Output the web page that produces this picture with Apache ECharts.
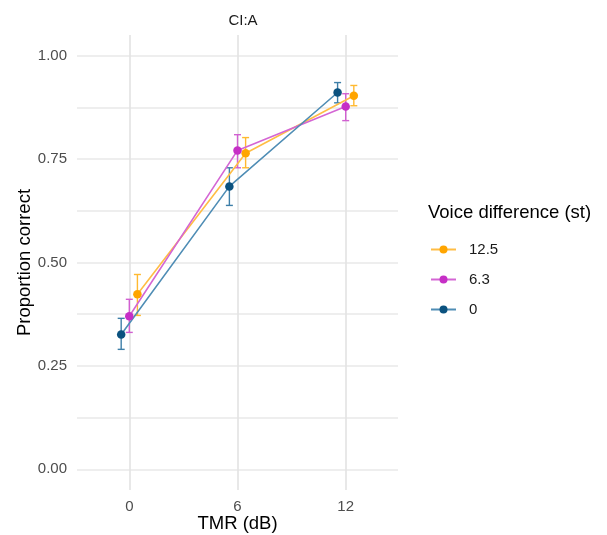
<!DOCTYPE html>
<html>
<head>
<meta charset="utf-8">
<script src="https://cdn.jsdelivr.net/npm/echarts@6/dist/echarts.min.js"></script>
<style>
  html, body { margin: 0; padding: 0; background: #fff; }
  #chart { width: 607px; height: 535px; }
</style>
</head>
<body>
<div id="chart"></div>
<script>
// TMR levels (dB) and voice difference groups (st)
const tmr = [0, 6, 12]
const groups = ['12.5', '6.3', '0']

// proportion correct, with lower / upper error bar ends
const mean125 = [0.423, 0.764, 0.903]
const lo125 = [0.372, 0.729, 0.879]
const hi125 = [0.471, 0.802, 0.928]

const mean63 = [0.370, 0.771, 0.877]
const lo63 = [0.331, 0.729, 0.843]
const hi63 = [0.411, 0.809, 0.908]

const mean0 = [0.326, 0.684, 0.911]
const lo0 = [0.290, 0.638, 0.886]
const hi0 = [0.365, 0.729, 0.935]

const tickY = [0, 0.125, 0.25, 0.375, 0.5, 0.625, 0.75, 0.875, 1]
const labelY = [0, 0.25, 0.5, 0.75, 1]

// dodge offset in dB, colours for point / line / error bar
const dodge = [0.45, 0, -0.45]
const pointColors = ['#FFA500', '#C62FC6', '#0B527F']
const lineColors = ['#FFBD45', '#D466D4', '#4F8DB5']
const barColors = ['#FFB930', '#D160D1', '#3E7FA8']

const means = [mean125, mean63, mean0]
const lows = [lo125, lo63, lo0]
const highs = [hi125, hi63, hi0]

const font = 'Liberation Sans, Arial, sans-serif'

const series = []
groups.forEach(function (g, i) {
  series.push({
    name: g,
    type: 'line',
    z: 3,
    symbol: 'circle',
    symbolSize: 8.5,
    showSymbol: true,
    itemStyle: { color: pointColors[i] },
    lineStyle: { color: lineColors[i], width: 1.6 },
    emphasis: { disabled: true },
    data: tmr.map(function (t, k) { return [t + dodge[i], means[i][k]] })
  })
})
groups.forEach(function (g, i) {
  const c = barColors[i]
  series.push({
    name: g,
    type: 'custom',
    z: 2,
    renderItem: function (params, api) {
      const x = api.value(0)
      const top = api.coord([x, api.value(2)])
      const bot = api.coord([x, api.value(1)])
      const hw = 3.5
      const st = { stroke: c, lineWidth: 1.4 }
      return {
        type: 'group',
        children: [
          { type: 'line', shape: { x1: top[0], y1: top[1], x2: bot[0], y2: bot[1] }, style: st },
          { type: 'line', shape: { x1: top[0] - hw, y1: top[1], x2: top[0] + hw, y2: top[1] }, style: st },
          { type: 'line', shape: { x1: bot[0] - hw, y1: bot[1], x2: bot[0] + hw, y2: bot[1] }, style: st }
        ]
      }
    },
    encode: { x: 0, y: [1, 2] },
    data: tmr.map(function (t, k) { return [t + dodge[i], lows[i][k], highs[i][k]] })
  })
})

const myChart = echarts.init(document.getElementById('chart'))
const option = {
  animation: false,
  title: [
    {
      text: 'CI:A',
      left: 238,
      top: 8,
      textAlign: 'center',
      textStyle: { fontFamily: font, fontSize: 15, fontWeight: 'normal', color: '#1a1a1a' }
    },
    {
      text: 'Voice difference (st)',
      left: 423,
      top: 198,
      textStyle: { fontFamily: font, fontSize: 18.5, fontWeight: 'normal', color: '#000' }
    }
  ],
  legend: {
    data: groups,
    orient: 'vertical',
    left: 425,
    top: 237,
    itemWidth: 25,
    itemHeight: 10,
    itemGap: 15,
    selectedMode: false,
    textStyle: { fontFamily: font, fontSize: 15, color: '#1a1a1a', padding: [0, 0, 0, 8] }
  },
  grid: { left: 77, right: 209, top: 35, bottom: 45, containLabel: false, outerBoundsMode: 'none' },
  xAxis: {
    type: 'value',
    min: -2.9,
    max: 14.9,
    name: 'TMR (dB)',
    nameLocation: 'middle',
    nameGap: 24,
    nameMoveOverlap: false,
    nameTextStyle: { fontFamily: font, fontSize: 18.5, color: '#000' },
    axisLine: { show: false },
    axisTick: { show: false, customValues: tmr },
    axisLabel: { customValues: tmr, margin: 9, fontFamily: font, fontSize: 15, color: '#4d4d4d' },
    splitLine: { show: true, lineStyle: { color: '#e3e3e3', width: 1.6 } }
  },
  yAxis: {
    type: 'value',
    min: -0.05,
    max: 1.05,
    name: 'Proportion correct',
    nameLocation: 'middle',
    nameGap: 43,
    nameMoveOverlap: false,
    nameTextStyle: { fontFamily: font, fontSize: 18.5, color: '#000' },
    axisLine: { show: false },
    axisTick: { show: false, customValues: tickY },
    axisLabel: {
      customValues: labelY,
      margin: 10,
      fontFamily: font,
      fontSize: 15,
      color: '#4d4d4d',
      formatter: function (v) { return v.toFixed(2) }
    },
    splitLine: { show: true, lineStyle: { color: '#e8e8e8', width: 1.6 } }
  },
  series: series
}
myChart.setOption(option)
</script>
</body>
</html>
